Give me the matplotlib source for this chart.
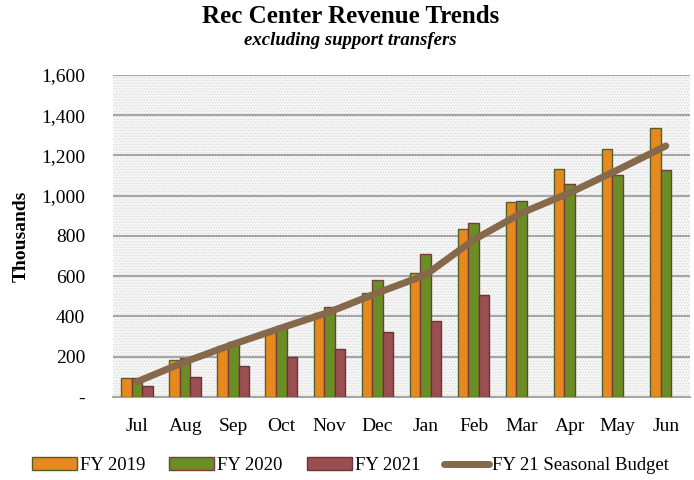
import numpy as np
import matplotlib
matplotlib.use("Agg")
import matplotlib.pyplot as plt
from matplotlib.patches import Rectangle
from matplotlib.lines import Line2D
from matplotlib.ticker import FuncFormatter

plt.rcParams['font.family'] = ['Liberation Serif', 'DejaVu Serif']
plt.rcParams['hatch.linewidth'] = 0.5

# Data (thousands)
months = ["Jul", "Aug", "Sep", "Oct", "Nov", "Dec", "Jan", "Feb", "Mar", "Apr", "May", "Jun"]
fy2019 = [93, 184, 253, 328, 416, 515, 615, 833, 967, 1133, 1232, 1338]
fy2020 = [93, 192, 275, 354, 447, 583, 711, 863, 975, 1057, 1103, 1126]
fy2021 = [55, 101, 156, 200, 237, 325, 379, 508, np.nan, np.nan, np.nan, np.nan]
budget = [76, 175, 262, 343, 422, 517, 606, 780, 914, 1014, 1128, 1247]

c19, c20, c21 = "#E8891F", "#6A8E23", "#9B4F53"
line_c = "#86684A"

fig = plt.figure(figsize=(6.94, 4.80), dpi=100)
ax = fig.add_axes([0.163, 0.173, 0.831, 0.671])

# dotted background
ax.set_facecolor("#f6f6f6")
bg = Rectangle((0, 0), 1, 1, transform=ax.transAxes, facecolor="none",
               edgecolor="#d6d6d6", hatch="......", linewidth=0, zorder=0)
ax.add_patch(bg)

x = np.arange(len(months))
w = 0.22
ax.bar(x - w, fy2019, w, color=c19, edgecolor="#4F6228", linewidth=1, zorder=3)
ax.bar(x, fy2020, w, color=c20, edgecolor="#7a3a3e", linewidth=1, zorder=3)
ax.bar(x + w, fy2021, w, color=c21, edgecolor="#6e3236", linewidth=1, zorder=3)
ax.plot(x, budget, color=line_c, linewidth=5, solid_capstyle="round",
        solid_joinstyle="round", zorder=4)

ax.set_xlim(-0.5, len(months) - 0.5)
ax.set_ylim(0, 1600)
ax.set_yticks(range(0, 1601, 200))
ax.yaxis.set_major_formatter(FuncFormatter(lambda v, p: "-" if v == 0 else f"{int(v):,}"))
ax.set_xticks(x)
ax.set_xticklabels(months)
ax.tick_params(axis="both", length=0, labelsize=14)
ax.tick_params(axis="x", pad=15)
ax.tick_params(axis="y", pad=20)
ax.grid(axis="y", color="#a6a6a6", linewidth=1.5, zorder=1)
ax.set_axisbelow(True)
for s in ["top", "right", "left"]:
    ax.spines[s].set_visible(False)
ax.spines["bottom"].set_color("#a6a6a6")
ax.spines["bottom"].set_linewidth(1.5)

ax.set_ylabel("Thousands", fontsize=14, fontweight="bold", labelpad=8)

fig.text(0.505, 0.965, "Rec Center Revenue Trends", ha="center", va="center",
         fontsize=18, fontweight="bold")
fig.text(0.505, 0.915, "excluding support transfers", ha="center", va="center",
         fontsize=13.5, fontweight="bold", style="italic")

handles = [
    Rectangle((0, 0), 1, 1, facecolor=c19, edgecolor="#4F6228"),
    Rectangle((0, 0), 1, 1, facecolor=c20, edgecolor="#7a3a3e"),
    Rectangle((0, 0), 1, 1, facecolor=c21, edgecolor="#6e3236"),
    Line2D([], [], color=line_c, linewidth=5, solid_capstyle="round"),
]
fig.legend(handles, ["FY 2019", "FY 2020", "FY 2021", "FY 21 Seasonal Budget"],
           loc="center", bbox_to_anchor=(0.505, 0.03), ncol=4, frameon=False,
           fontsize=13.5, handlelength=2.4, handleheight=0.7, handletextpad=0.15,
           columnspacing=1.3)

fig.savefig("out.png", dpi=100)
